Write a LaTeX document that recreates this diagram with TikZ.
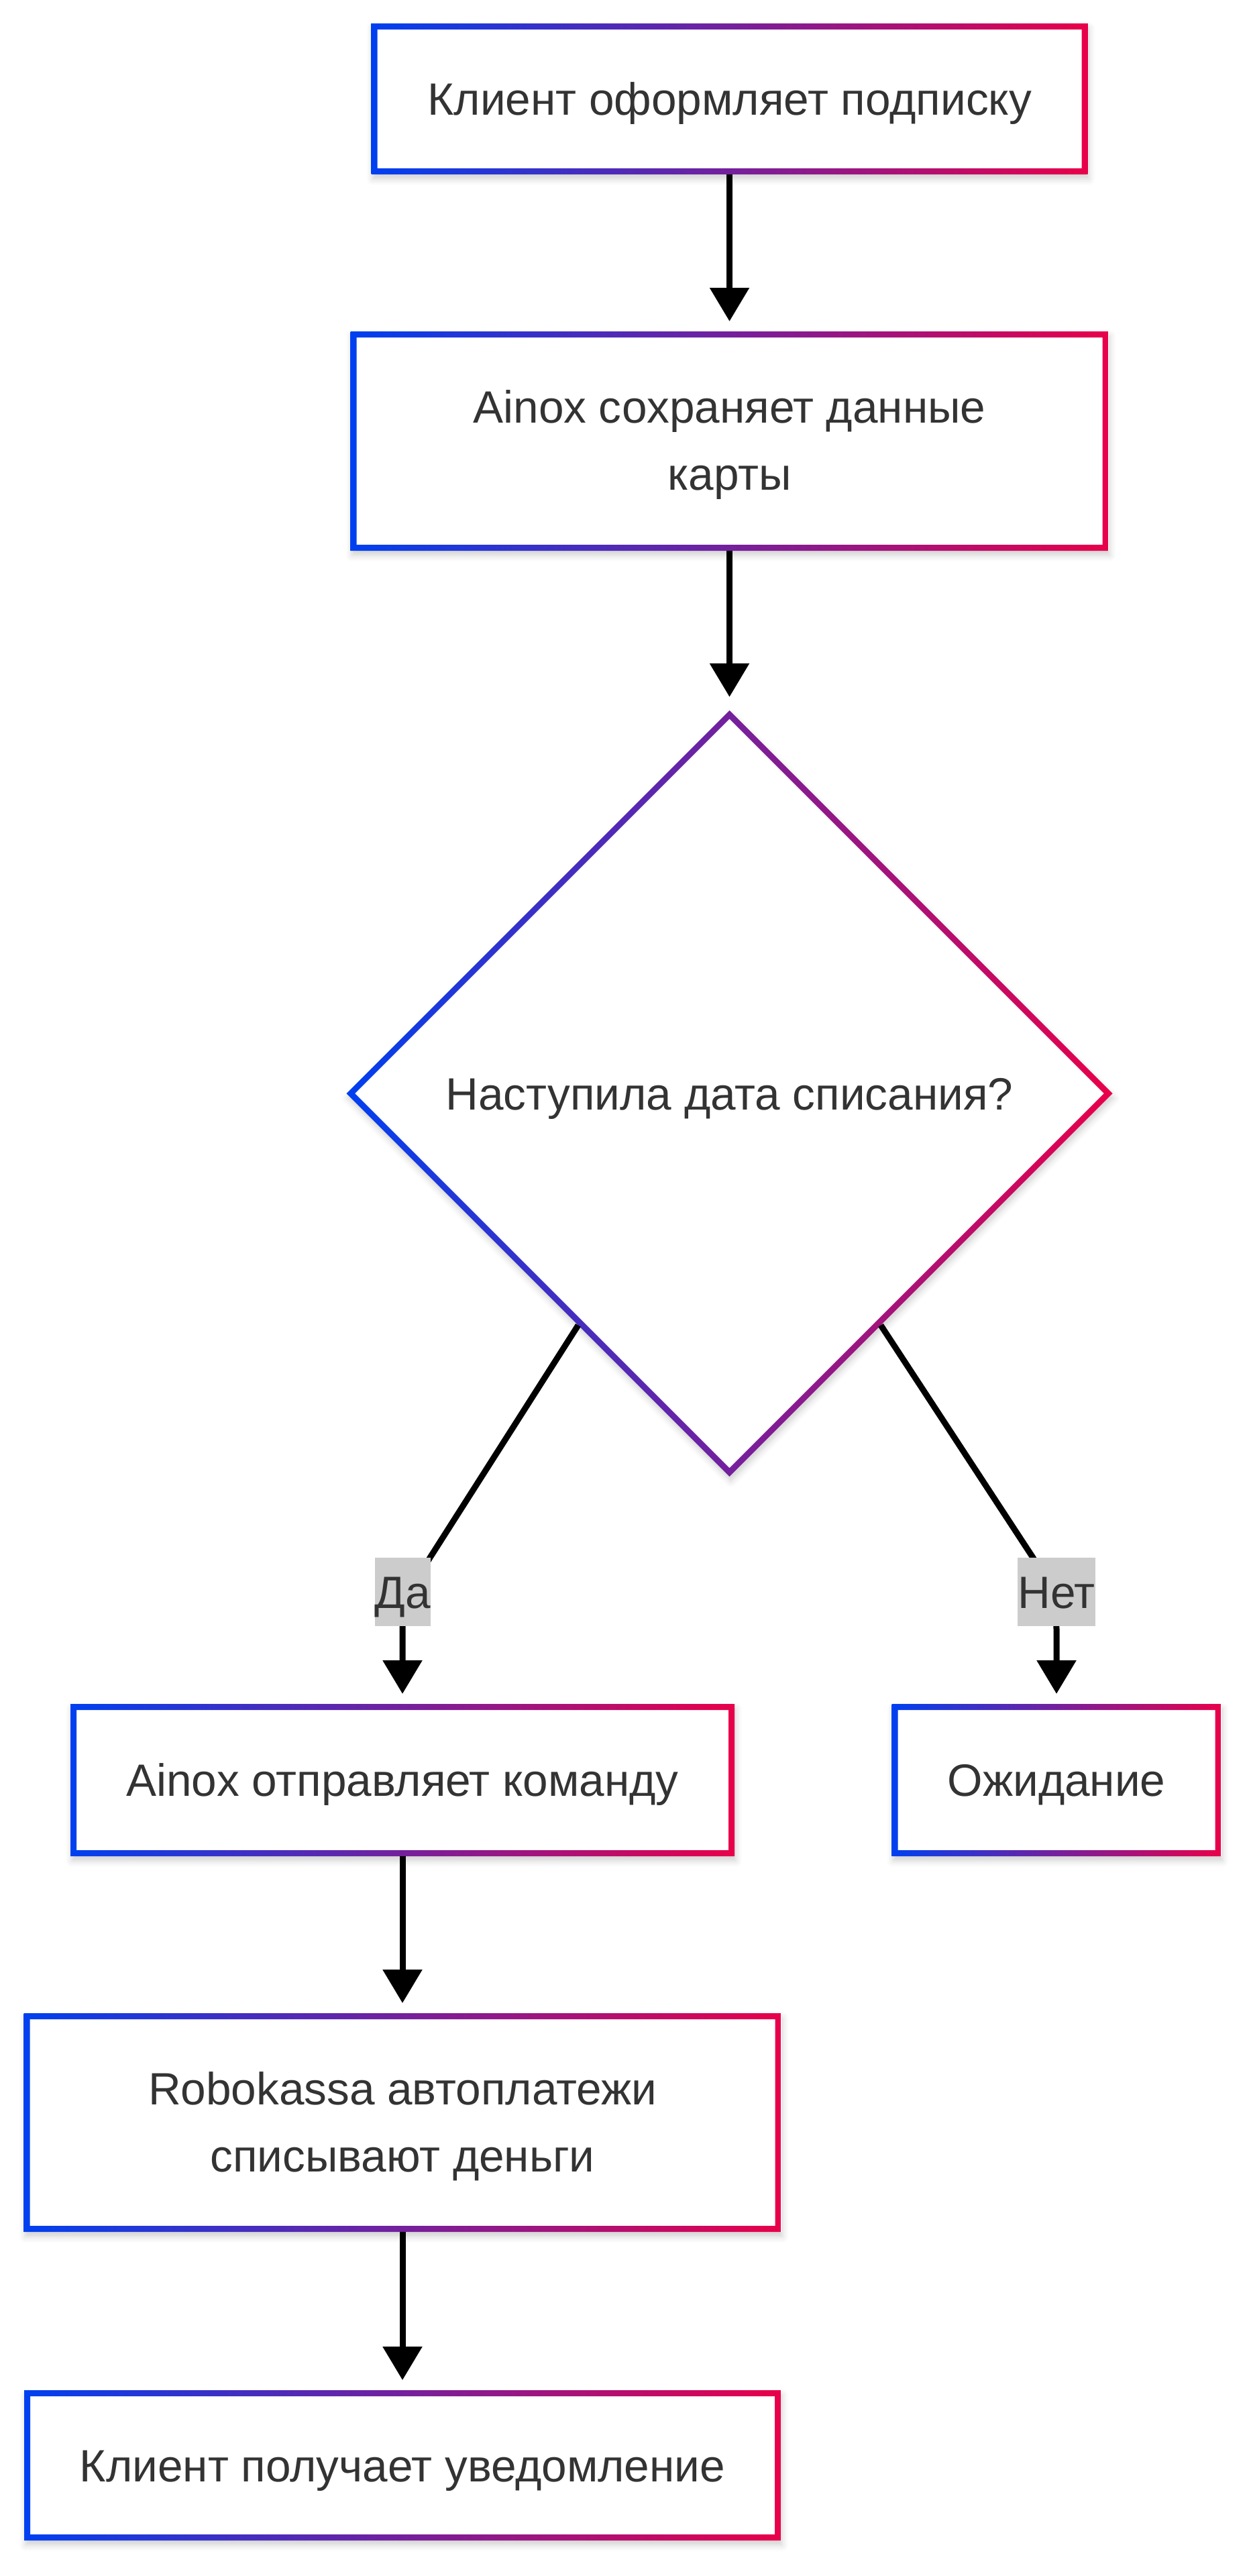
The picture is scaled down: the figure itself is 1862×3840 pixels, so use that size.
\documentclass[tikz,border=0pt]{standalone}
\usepackage{fontspec}
\setmainfont{Liberation Sans}
\usetikzlibrary{arrows.meta,shapes.geometric,calc,shadows.blur}
\definecolor{gblue}{HTML}{0040F0}
\definecolor{gred}{HTML}{E8004A}
\definecolor{txtgray}{HTML}{333333}
\definecolor{lblgray}{HTML}{CCCCCC}
\tikzset{
  softshadow/.style={blur shadow={shadow xshift=2pt, shadow yshift=-7pt, shadow blur radius=9pt, shadow opacity=18}},
  gradbox/.style={rectangle, fill=white, inner sep=0pt, outer sep=0pt, text=txtgray,
    font=\fontsize{67.5pt}{100pt}\selectfont, align=center, softshadow,
    path picture={\shade[left color=gblue, right color=gred, even odd rule]
      (path picture bounding box.south west) rectangle (path picture bounding box.north east)
      ([shift={(9pt,9pt)}]path picture bounding box.south west) rectangle ([shift={(-9pt,-9pt)}]path picture bounding box.north east);}},
  oneline/.style={text height=48pt, text depth=0pt},
  twoline/.style={text height=146pt, text depth=0pt},
  gradia/.style={diamond, aspect=1, fill=white, inner sep=0pt, outer sep=0pt, text=txtgray,
    font=\fontsize{67.5pt}{100pt}\selectfont, softshadow, text height=48pt, text depth=0pt,
    path picture={\shade[left color=gblue, right color=gred, even odd rule]
      (path picture bounding box.north) -- (path picture bounding box.east) -- (path picture bounding box.south) -- (path picture bounding box.west) -- cycle
      ([yshift=-12.7pt]path picture bounding box.north) -- ([xshift=-12.7pt]path picture bounding box.east) -- ([yshift=12.7pt]path picture bounding box.south) -- ([xshift=12.7pt]path picture bounding box.west) -- cycle;}},
  arr/.style={draw=black, line width=9pt, -{Triangle[width=57pt,length=50pt]}, shorten >=15pt},
  edgelabel/.style={fill=lblgray, text=txtgray, inner sep=0pt, minimum height=102pt,
    font=\fontsize{67.5pt}{100pt}\selectfont, text height=48pt, text depth=0pt}
}
\begin{document}
\begin{tikzpicture}[x=1pt,y=-1pt]
\useasboundingbox (0,0) rectangle (1862,3840);
% nodes
\node[gradbox, oneline, minimum width=1068pt, minimum height=225pt] (n1) at (1087.5,147.5) {Клиент оформляет подписку};
\node[gradbox, twoline, minimum width=1130pt, minimum height=327pt] (n2) at (1087.5,657.5) {Ainox сохраняет данные\\карты};
\node[gradia, minimum width=1142pt, minimum height=1142pt] (dia) at (1087.5,1630) {Наступила дата списания?};
\node[gradbox, oneline, minimum width=990pt, minimum height=227pt] (n3) at (600,2653.5) {Ainox отправляет команду};
\node[gradbox, oneline, minimum width=491pt, minimum height=227pt] (n4) at (1575,2653.5) {Ожидание};
\node[gradbox, twoline, minimum width=1129pt, minimum height=326pt] (n5) at (600,3164) {Robokassa автоплатежи\\списывают деньги};
\node[gradbox, oneline, minimum width=1128pt, minimum height=224pt] (n6) at (600,3675) {Клиент получает уведомление};
% connectors
\coordinate (dabend) at (641,2322);
\coordinate (daend) at (600,2430);
\coordinate (netbend) at (1540,2322);
\coordinate (netend) at (1575,2430);
\draw[arr] (n1) -- (n2);
\draw[arr, shorten >=20pt] (n2) -- (dia);
\draw[arr] ($(dia.west)!0.605!(dia.south)$) -- (dabend) .. controls (616,2362) and (600,2395) .. (daend) -- (n3.north);
\draw[arr] ($(dia.east)!0.605!(dia.south)$) -- (netbend) .. controls (1565,2362) and (1575,2395) .. (netend) -- (n4.north);
\draw[arr] (n3) -- (n5);
\draw[arr] (n5) -- (n6);
% edge labels
\node[edgelabel, minimum width=81pt] (lda) at (600.5,2373) {Да};
\node[edgelabel, minimum width=116pt] (lnet) at (1575,2373) {Нет};
\end{tikzpicture}
\end{document}
